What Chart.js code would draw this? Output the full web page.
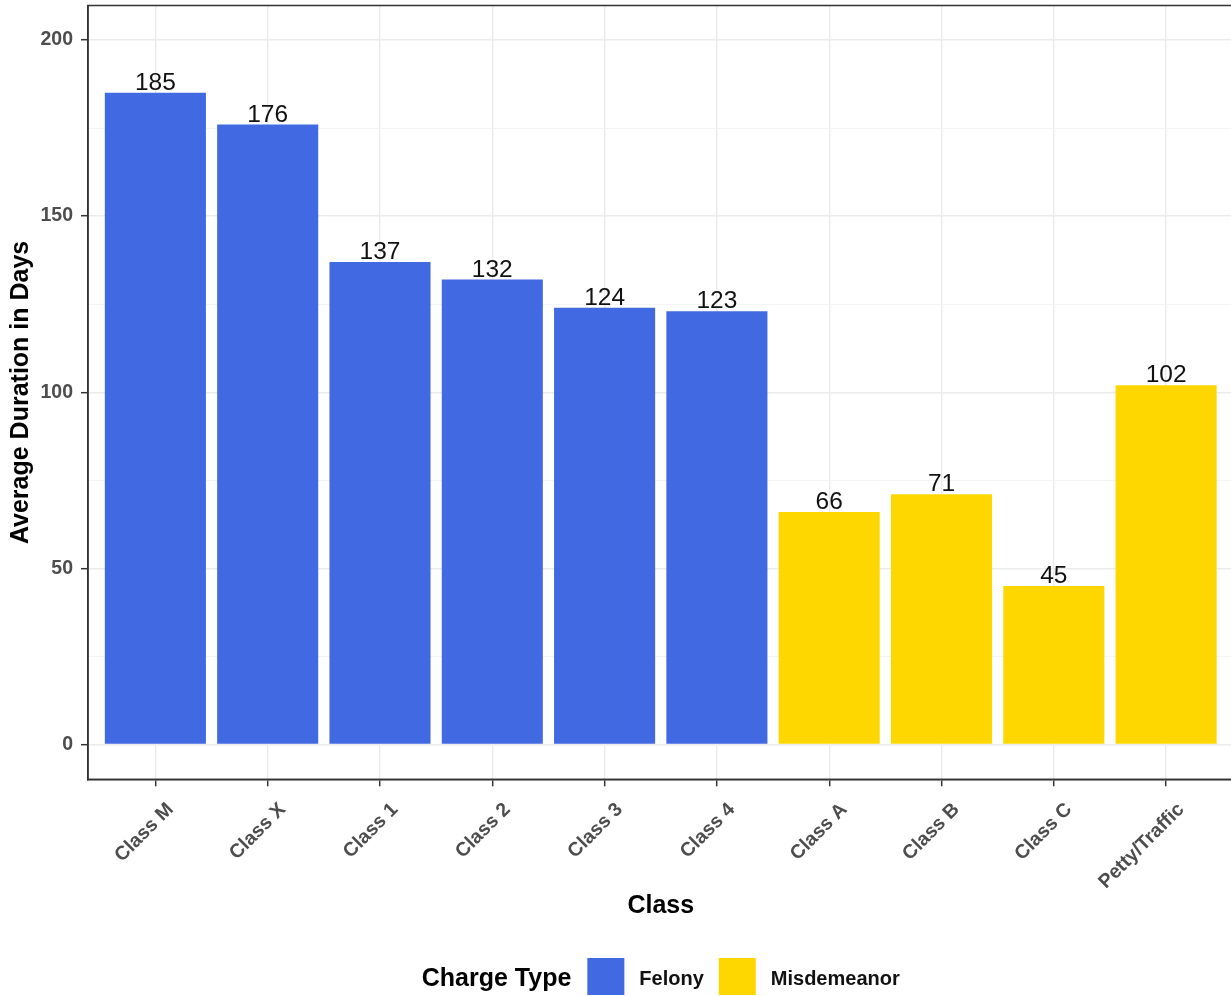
<!DOCTYPE html>
<html>
<head>
<meta charset="utf-8">
<script src="https://cdn.jsdelivr.net/npm/chart.js@4"></script>
<style>
  html, body { margin: 0; padding: 0; overflow: hidden; background: #fff; }
  canvas { display: block; }
</style>
</head>
<body>
<canvas id="duration-plot" width="1240" height="996"></canvas>
<script>
// average case duration per offense class
const classes = ['Class M', 'Class X', 'Class 1', 'Class 2', 'Class 3', 'Class 4', 'Class A', 'Class B', 'Class C', 'Petty/Traffic'];
const avgDays = [185, 176, 137, 132, 124, 123, 66, 71, 45, 102];
const chargeTypes = ['Felony', 'Felony', 'Felony', 'Felony', 'Felony', 'Felony', 'Misdemeanor', 'Misdemeanor', 'Misdemeanor', 'Misdemeanor'];
const typeNames = ['Felony', 'Misdemeanor'];
const typeColors = ['#4169E1', '#FFD700'];
const yTicks = [0, 25, 50, 75, 100, 125, 150, 175, 200];

const FONT = "'Liberation Sans', Arial, sans-serif";

// one dataset per charge type, bars sit at their class index
const datasets = typeNames.map((name, k) => ({
    label: name,
    data: classes
        .map((c, i) => chargeTypes[i] === name ? { x: i, y: avgDays[i] } : null)
        .filter(p => p !== null),
    backgroundColor: typeColors[k],
    borderWidth: 0,
    grouped: false,
    categoryPercentage: 1,
    barPercentage: 0.9,
}));

const isMajor = v => v % 50 === 0;

// keep chart.js from padding the plot area for overhanging labels
const noPadding = scale => {
    scale.paddingLeft = 0;
    scale.paddingRight = 0;
    scale.paddingTop = 0;
    scale.paddingBottom = 0;
};

// numbers printed on top of each bar
const valueLabels = {
    id: 'valueLabels',
    afterDatasetsDraw(chart) {
        const ctx = chart.ctx;
        ctx.save();
        ctx.font = `24.5px ${FONT}`;
        ctx.fillStyle = '#111';
        ctx.textAlign = 'center';
        ctx.textBaseline = 'alphabetic';
        chart.data.datasets.forEach((ds, d) => {
            chart.getDatasetMeta(d).data.forEach((bar, j) => {
                ctx.fillText(String(ds.data[j].y), bar.x, bar.y - 3);
            });
        });
        ctx.restore();
    }
};

// panel frame, x axis title and the legend row underneath
const frameAndLegend = {
    id: 'frameAndLegend',
    afterDraw(chart) {
        const ctx = chart.ctx;
        const area = chart.chartArea;
        ctx.save();
        ctx.strokeStyle = '#333';
        ctx.lineWidth = 1.5;
        ctx.strokeRect(area.left, area.top, area.right - area.left, area.bottom - area.top);

        const cx = (area.left + area.right) / 2;
        ctx.fillStyle = '#000';
        ctx.textBaseline = 'alphabetic';
        ctx.textAlign = 'center';
        ctx.font = `bold 25px ${FONT}`;
        ctx.fillText('Class', cx, 913);

        const base = 986;
        const box = 37;
        const boxTop = 958;
        ctx.font = `bold 25px ${FONT}`;
        const titleW = ctx.measureText('Charge Type').width;
        ctx.font = `bold 20px ${FONT}`;
        const labelW = typeNames.map(n => ctx.measureText(n).width);
        let total = titleW + 16;
        labelW.forEach(w => { total += box + 15 + w + 15; });
        total -= 15;
        let x = cx - total / 2;

        ctx.textAlign = 'left';
        ctx.font = `bold 25px ${FONT}`;
        ctx.fillText('Charge Type', x, base);
        x += titleW + 16;
        ctx.font = `bold 20px ${FONT}`;
        typeNames.forEach((n, k) => {
            ctx.fillStyle = typeColors[k];
            ctx.fillRect(x, boxTop, box, box);
            x += box + 15;
            ctx.fillStyle = '#111';
            ctx.fillText(n, x, base - 1);
            x += labelW[k] + 15;
        });
        ctx.restore();
    }
};

const ctx = document.getElementById('duration-plot').getContext('2d');
new Chart(ctx, {
    type: 'bar',
    data: { datasets: datasets },
    plugins: [valueLabels, frameAndLegend],
    options: {
        responsive: false,
        animation: false,
        layout: { padding: { top: 5.5, right: 6.5, bottom: 66.7, left: 0 } },
        plugins: {
            legend: { display: false },
            tooltip: { enabled: false },
        },
        scales: {
            x: {
                type: 'linear',
                offset: false,
                min: -0.6,
                max: 9.6,
                afterBuildTicks: scale => { scale.ticks = classes.map((c, i) => ({ value: i })); },
                afterFit: scale => { scale.height = 150; noPadding(scale); },
                grid: {
                    offset: false,
                    color: '#ebebeb',
                    lineWidth: 1.4,
                    tickColor: '#333',
                    tickWidth: 1.5,
                    tickLength: 7,
                },
                border: { color: '#333', width: 1.5 },
                ticks: {
                    autoSkip: false,
                    maxRotation: 45,
                    minRotation: 45,
                    padding: 12,
                    labelOffset: 15,
                    color: '#4d4d4d',
                    font: { family: FONT, size: 19.5, weight: 'bold' },
                    callback: v => classes[v],
                },
            },
            y: {
                min: -9.9,
                max: 209.8,
                afterBuildTicks: scale => { scale.ticks = yTicks.map(v => ({ value: v })); },
                afterFit: scale => { scale.width = 88; noPadding(scale); },
                grid: {
                    color: c => isMajor(c.tick.value) ? '#ebebeb' : '#f3f3f3',
                    lineWidth: c => isMajor(c.tick.value) ? 1.4 : 0.9,
                    tickColor: c => isMajor(c.tick.value) ? '#333' : 'rgba(0,0,0,0)',
                    tickWidth: 1.5,
                    tickLength: 7,
                },
                border: { color: '#333', width: 1.5 },
                ticks: {
                    padding: 8,
                    color: '#4d4d4d',
                    font: { family: FONT, size: 19.5, weight: 'bold' },
                    callback: v => isMajor(v) ? String(v) : '',
                },
                title: {
                    display: true,
                    text: 'Average Duration in Days',
                    color: '#000',
                    padding: { top: 6.5, bottom: 0 },
                    font: { family: FONT, size: 25, weight: 'bold' },
                },
            },
        },
    },
});
</script>
</body>
</html>
